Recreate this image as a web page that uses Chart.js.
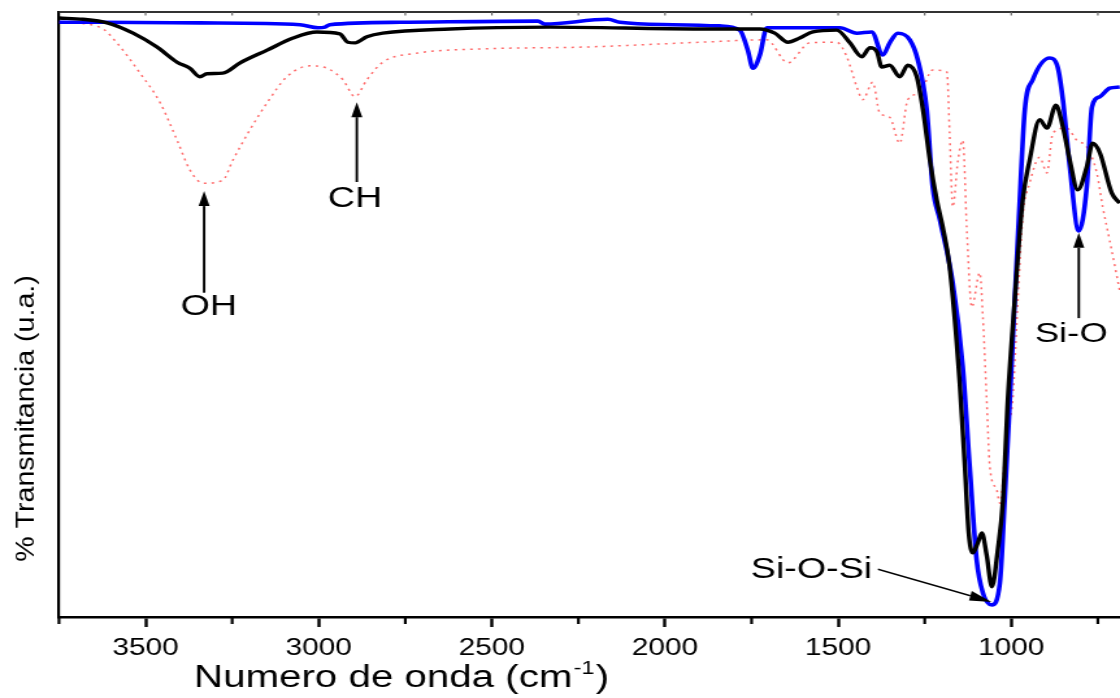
<!DOCTYPE html>
<html>
<head>
<meta charset="utf-8">
<style>
html,body{margin:0;padding:0;background:#fff;overflow:hidden}
canvas{display:block}
</style>
<script src="https://cdn.jsdelivr.net/npm/chart.js@4.4.0/dist/chart.umd.min.js"></script>
</head>
<body>
<canvas id="c" width="862" height="698" style="width:1120px;height:698px"></canvas>
<script>
// ---- data (wavenumber in cm-1, transmittance in arbitrary units) ----
const blackWn = [3750,3681,3611,3536,3467,3409,3372,3343,3323,3277,3227,3149,3074,3005,2939,2916,2895,2861,2815,2621,2332,1899,1726,1683,1645,1611,1573,1504,1466,1432,1408,1388,1374,1351,1322,1299,1273,1255,1235,1215,1198,1178,1149,1134,1123,1111,1097,1085,1071,1056,1039,1024,1010,990,967,947,918,897,871,851,831,808,782,765,744,710,687];
const blackT  = [99.0,98.8,98.2,96.5,94.2,91.7,90.7,89.3,89.8,89.9,91.6,93.7,95.7,96.7,96.4,95.0,94.9,95.9,96.5,97.2,97.5,97.2,97.2,96.5,95.0,95.7,96.7,97.0,94.9,92.6,94.1,93.4,90.9,91.2,89.3,91.2,89.3,83.8,75.5,68.9,64.5,57.9,38.7,24.8,13.9,10.6,12.2,13.9,10.2,5.0,11.1,19.3,35.9,52.4,68.9,75.5,82.2,80.8,84.6,81.0,75.5,70.6,74.4,78.3,76.7,70.1,68.4];

const blueWn = [3750,3632,3343,3054,3002,2982,2968,2765,2367,2347,2165,2130,1977,1842,1784,1761,1746,1726,1706,1495,1446,1403,1371,1351,1328,1293,1270,1244,1227,1206,1169,1140,1120,1100,1082,1056,1033,1019,1004,990,978,961,938,889,866,851,831,805,782,767,744,716,687];
const blueT  = [98.3,98.3,98.2,97.9,97.4,97.5,97.9,98.3,98.5,98.0,98.8,98.3,97.9,97.7,97.0,93.7,90.7,92.9,97.4,97.4,96.5,96.7,92.9,94.9,96.5,95.4,92.1,83.8,71.1,65.6,55.2,41.3,24.8,9.4,4.0,2.0,5.6,19.3,35.9,52.4,66.1,83.8,88.8,92.4,90.9,85.5,74.4,63.8,71.1,84.3,86.0,87.4,87.6];

const redWn = [3750,3632,3583,3516,3458,3409,3372,3334,3277,3248,3199,3149,3092,3025,2976,2930,2895,2861,2815,2716,2526,2237,1899,1706,1645,1582,1504,1475,1446,1429,1400,1380,1351,1322,1299,1264,1227,1186,1178,1169,1154,1140,1128,1114,1091,1082,1071,1062,1042,1033,1013,996,981,967,947,918,897,880,840,811,782,753,736,716,687];
const redT  = [98.3,97.5,94.9,89.9,85.0,78.8,73.9,71.7,72.2,75.5,80.5,85.0,89.3,91.1,90.7,88.8,86.0,88.8,91.7,93.2,93.9,94.2,95.0,95.4,91.6,94.9,95.0,92.6,87.6,85.5,88.4,83.3,82.6,78.3,85.5,86.6,90.4,90.1,80.0,67.8,75.5,78.8,63.5,51.2,56.9,49.6,35.9,24.8,21.0,18.8,30.4,35.9,52.4,66.1,71.7,76.0,73.4,80.0,80.8,78.8,77.7,73.4,67.8,62.3,54.0];

const xMin = 686, xMax = 3750;
const xTickValues = [3500, 3000, 2500, 2000, 1500, 1000];
const xMinorValues = [3750, 3250, 2750, 2250, 1750, 1250, 750];
const xTitle = 'Numero de onda (cm';
const xTitleSup = '-1';
const yTitle = '% Transmitancia (u.a.)';

// annotation anchors (in data units)
const annoLabels  = ['OH', 'CH', 'Si-O', 'Si-O-Si'];
const annoTextWn  = [3317, 2895, 827, 1577];
const annoTextT   = [49.9, 67.8, 45.5, 6.45];
const arrowFromWn = [3331, 2890, 805, 1385];
const arrowFromT  = [53.6, 71.9, 49.4, 7.9];
const arrowToWn   = [3331, 2890, 805, 1057];
const arrowToT    = [70.4, 85.1, 63.5, 2.5];

// ---- rendering ----
const S = 1120 / 862; // horizontal stretch of the canvas on screen
const FONT = '"Liberation Sans", Arial, sans-serif';
const toPts = (wn, t) => wn.map((w, i) => ({x: w, y: t[i]}));

function arrow(ctx, x1, y1, x2, y2, lw, hl, hw) {
  ctx.save();
  ctx.scale(1 / S, 1);
  const X1 = x1 * S, X2 = x2 * S;
  const a = Math.atan2(y2 - y1, X2 - X1);
  const bx = X2 - hl * Math.cos(a), by = y2 - hl * Math.sin(a);
  ctx.strokeStyle = '#000'; ctx.fillStyle = '#000'; ctx.lineWidth = lw;
  ctx.beginPath(); ctx.moveTo(X1, y1); ctx.lineTo(bx, by); ctx.stroke();
  ctx.beginPath(); ctx.moveTo(X2, y2);
  ctx.lineTo(bx + hw * Math.sin(a), by - hw * Math.cos(a));
  ctx.lineTo(bx - hw * Math.sin(a), by + hw * Math.cos(a));
  ctx.closePath(); ctx.fill();
  ctx.restore();
}

const decor = {
  id: 'decor',
  afterDraw(chart) {
    const ctx = chart.ctx, xs = chart.scales.x, ys = chart.scales.y, ca = chart.chartArea;
    ctx.save();
    // top frame line
    ctx.strokeStyle = '#333'; ctx.lineWidth = 2;
    ctx.beginPath(); ctx.moveTo(ca.left, ca.top); ctx.lineTo(ca.right + 2, ca.top); ctx.stroke();
    // minor ticks (bottom)
    ctx.strokeStyle = '#000'; ctx.lineWidth = 2.2;
    xMinorValues.forEach(v => {
      if (v < xMin) return;
      const px = xs.getPixelForValue(v);
      ctx.beginPath(); ctx.moveTo(px, ca.bottom); ctx.lineTo(px, ca.bottom + 7); ctx.stroke();
    });
    // small inward ticks (top)
    ctx.strokeStyle = '#666'; ctx.lineWidth = 1.2;
    xTickValues.concat(xMinorValues).forEach(v => {
      if (v < xMin || v >= xMax) return;
      const px = xs.getPixelForValue(v);
      ctx.beginPath(); ctx.moveTo(px, ca.top); ctx.lineTo(px, ca.top + 3.5); ctx.stroke();
    });
    // annotations
    ctx.fillStyle = '#000';
    ctx.textAlign = 'center'; ctx.textBaseline = 'alphabetic';
    const sizes = [29, 29, 28, 29];
    annoLabels.forEach((lab, i) => {
      const x1 = xs.getPixelForValue(arrowFromWn[i]), y1 = ys.getPixelForValue(arrowFromT[i]);
      const x2 = xs.getPixelForValue(arrowToWn[i]), y2 = ys.getPixelForValue(arrowToT[i]);
      if (i < 3) arrow(ctx, x1, y1, x2, y2, 2.5, 15, 5.5);
      else arrow(ctx, x1, y1, x2, y2, 1.6, 22, 5);
      ctx.font = sizes[i] + 'px ' + FONT;
      ctx.fillText(lab, xs.getPixelForValue(annoTextWn[i]), ys.getPixelForValue(annoTextT[i]));
    });
    // x axis title with superscript
    ctx.textAlign = 'left';
    const x0 = ca.left + (194 - 59) / S, base = 687;
    ctx.font = '31px ' + FONT;
    ctx.fillText(xTitle, x0, base);
    const w1 = ctx.measureText(xTitle).width;
    ctx.font = '18px ' + FONT;
    ctx.fillText(xTitleSup, x0 + w1 + 1, base - 13);
    const w2 = ctx.measureText(xTitleSup).width;
    ctx.font = '31px ' + FONT;
    ctx.fillText(')', x0 + w1 + w2 + 2, base);
    // y axis title (rotated)
    ctx.save();
    ctx.translate(34 / S, 418.5);
    ctx.scale(1 / S, 1);
    ctx.rotate(-Math.PI / 2);
    ctx.scale(1.1, 1);
    ctx.font = '26px ' + FONT;
    ctx.textAlign = 'center';
    ctx.fillText(yTitle, 0, 0);
    ctx.restore();
    ctx.restore();
  }
};

new Chart(document.getElementById('c'), {
  type: 'line',
  data: {
    datasets: [
      {data: toPts(blackWn, blackT), borderColor: '#000000', borderWidth: 3.4, cubicInterpolationMode: 'monotone', pointRadius: 0},
      {data: toPts(blueWn, blueT), borderColor: '#0000ff', borderWidth: 3.6, cubicInterpolationMode: 'monotone', pointRadius: 0},
      {data: toPts(redWn, redT), borderColor: 'rgba(255,70,70,0.8)', borderWidth: 1.5, borderDash: [2, 4], cubicInterpolationMode: 'monotone', pointRadius: 0}
    ]
  },
  options: {
    responsive: false,
    animation: false,
    devicePixelRatio: 1,
    layout: {padding: {top: 12, left: 0, right: 0, bottom: 0}},
    plugins: {legend: {display: false}, tooltip: {enabled: false}},
    scales: {
      x: {
        type: 'linear', reverse: true, min: xMin, max: xMax,
        afterBuildTicks(s) { s.ticks = xTickValues.map(v => ({value: v})); },
        afterFit(s) { s.height = 81; s.paddingLeft = 0; s.paddingRight = 0; },
        ticks: {autoSkip: false, maxRotation: 0, padding: 8,
                font: {family: FONT, size: 23}, color: '#000', callback: v => String(v)},
        grid: {display: true, drawOnChartArea: false, drawTicks: true, tickLength: 10, tickWidth: 2.4, tickColor: '#000'},
        border: {display: true, color: '#000', width: 2.5}
      },
      y: {
        type: 'linear', min: 0, max: 100,
        afterFit(s) { s.width = 59 / S; },
        ticks: {display: false},
        grid: {display: false},
        border: {display: true, color: '#000', width: 2.2}
      }
    }
  },
  plugins: [decor]
});
</script>
</body>
</html>
